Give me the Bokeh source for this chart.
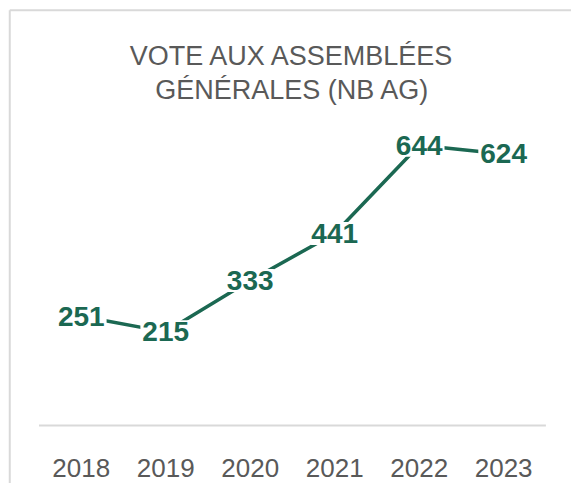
from bokeh.plotting import figure
from bokeh.models import ColumnDataSource, Range1d, LabelSet, Label
from bokeh.core.properties import value
from bokeh.embed import file_html
from bokeh.resources import INLINE

# ---- data ----
years = ["2018", "2019", "2020", "2021", "2022", "2023"]
votes = [251, 215, 333, 441, 644, 624]
title_line1 = "VOTE AUX ASSEMBLÉES"
title_line2 = "GÉNÉRALES (NB AG)"

GREEN = "#1b6852"
GREY_TXT = "#595959"
BORDER = "#d9d9d9"
FONT = "Liberation Sans"

n = len(years)
xs = list(range(n))
src = ColumnDataSource(dict(x=xs, y=votes, label=[str(v) for v in votes], year=years))

# whole chart area mapped onto the canvas
X0, X1 = -0.9557, 5.803
Y0, Y1 = -133.5, 976.6

p = figure(width=571, height=483, output_backend="svg", toolbar_location=None,
           x_axis_type=None, y_axis_type=None,
           x_range=Range1d(X0, X1), y_range=Range1d(Y0, Y1),
           min_border_left=0, min_border_top=0, min_border_right=0, min_border_bottom=0)
p.title.visible = False
p.grid.visible = False
p.outline_line_color = None
p.border_fill_color = "white"
p.background_fill_color = "white"

# chart-area frame (left and top edges visible)
BX, BY = -0.846, 954.4
p.segment(x0=[BX, BX], y0=[BY, BY], x1=[BX, X1], y1=[Y0, BY],
          line_color=BORDER, line_width=2)

# baseline (category axis line)
p.segment(x0=[-0.5], x1=[n - 0.5], y0=[0], y1=[0], line_color=BORDER, line_width=2)

# series line
p.line(x="x", y="y", source=src, line_color=GREEN, line_width=3.5)

# data labels with white box covering the line
labels = LabelSet(x="x", y="y", text="label", source=src,
                  text_align="center", text_baseline="middle",
                  text_font=value(FONT), text_font_style="bold",
                  text_font_size="28px", text_color=GREEN,
                  background_fill_color="white",
                  border_line_color="white", border_line_width=4)
p.add_layout(labels)

# category labels
p.text(x="x", y=-97, text="year", source=src, text_align="center",
       text_baseline="alphabetic", text_font=value(FONT), text_font_size="26px",
       text_color=GREY_TXT)

# title
for txt, yy in [(title_line1, 850), (title_line2, 770)]:
    p.add_layout(Label(x=(n - 1) / 2, y=yy, text=txt, text_align="center",
                       text_baseline="alphabetic", text_font=FONT,
                       text_font_size="27px", text_color=GREY_TXT))

open("out.html", "w").write(file_html(p, INLINE))
